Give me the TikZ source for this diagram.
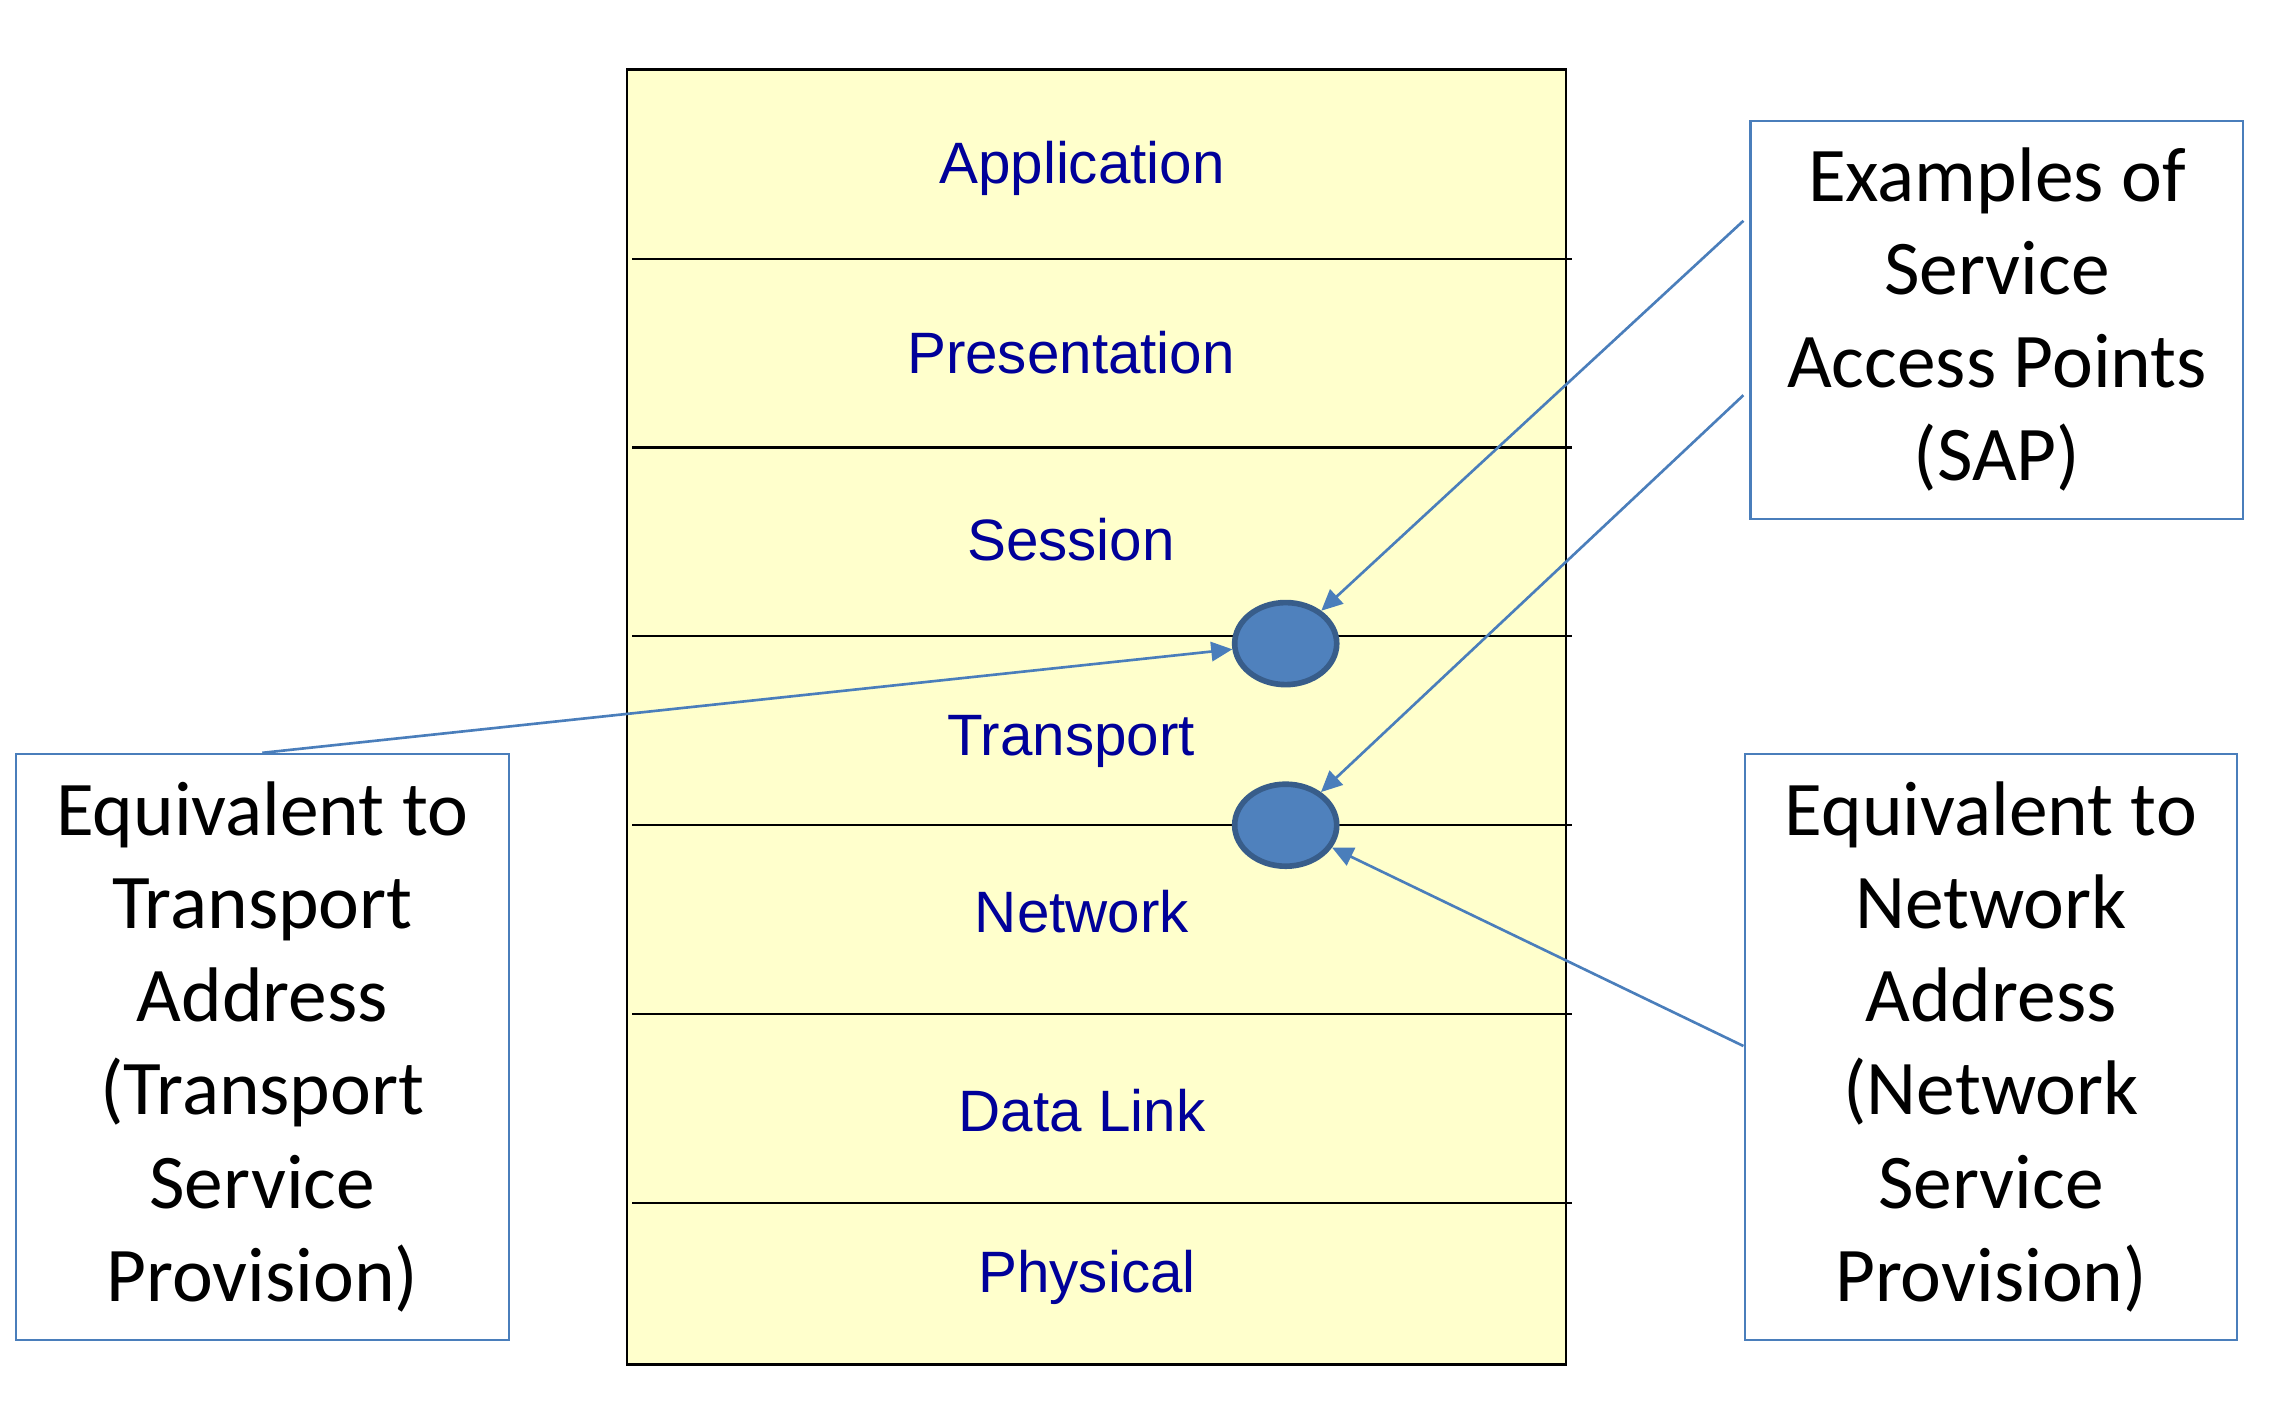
\documentclass[tikz,border=0pt]{standalone}
\usepackage{fontspec}
\setmainfont{Carlito}
\newfontfamily\layerfont{Liberation Sans}
\usetikzlibrary{arrows.meta, shapes.geometric, positioning, calc}
\definecolor{layerfill}{HTML}{FFFFCC}
\definecolor{layertext}{HTML}{000099}
\definecolor{sapfill}{HTML}{4F81BD}
\definecolor{sapdraw}{HTML}{385D8A}
\definecolor{linkblue}{HTML}{4A7EBB}

\begin{document}
\begin{tikzpicture}[x=0.01cm, y=-0.01cm,
    layer/.style={font=\layerfont\fontsize{16.6}{20}\selectfont, text=layertext, inner sep=0pt, anchor=base},
    callout/.style={draw=linkblue, line width=0.6pt, align=center, minimum width=4.925cm, font=\fontsize{22}{26.5}\selectfont},
    sap/.style={draw=sapdraw, fill=sapfill, ellipse, line width=1.6pt, minimum width=1.02cm, minimum height=0.82cm, inner sep=0pt},
    stack/.style={draw, fill=layerfill, line width=0.65pt, minimum width=9.384cm, minimum height=12.945cm, inner sep=0pt},
    divider/.style={line width=0.6pt},
    pointer/.style={-{Triangle[length=6pt, width=5.5pt]}, draw=linkblue, fill=linkblue, line width=0.75pt}
]
    \useasboundingbox (0,0) rectangle (2278,1418);

    % OSI stack
    \node (osi) [stack] at (1096.8,717) {};
    \foreach \y in {258.6,447.5,636.3,825.2,1014.1,1202.9}
        \draw [divider] (632,\y) -- (1572,\y);

    % Layer names
    \node (l7) [layer] at (1082,183) {Application};
    \node (l6) [layer] at (1071,373) {Presentation};
    \node (l5) [layer] at (1071,560) {Session};
    \node (l4) [layer] at (1071,755) {Transport};
    \node (l3) [layer] at (1082,932) {Network};
    \node (l2) [layer] at (1082,1131) {Data Link};
    \node (l1) [layer] at (1087,1292) {Physical};

    % Service access points
    \node (sapT) [sap] at (1285.7,643.6) {};
    \node (sapN) [sap] at (1285.7,825.2) {};

    % Callouts
    \node (sapbox) [callout, minimum height=3.98cm] at (1996.9,319.7) {Examples of\\Service\\Access Points\\(SAP)};
    \node (tbox) [callout, minimum height=5.855cm] at (262.3,1046.8) {Equivalent to\\Transport\\Address\\(Transport\\Service\\Provision)};
    \node (nbox) [callout, minimum height=5.855cm] at (1991,1046.8) {Equivalent to\\Network\\Address\\(Network\\Service\\Provision)};

    \coordinate (s1) at (1743.4,220.8);
    \coordinate (s2) at (1743.4,395.2);
    \coordinate (n1) at (1743.4,1046);

    % Pointers
    \draw [pointer] (s1) -- (sapT);
    \draw [pointer] (s2) -- (sapN);
    \draw [pointer] (tbox.north) -- (sapT);
    \draw [pointer] (n1) -- (sapN);
\end{tikzpicture}
\end{document}
